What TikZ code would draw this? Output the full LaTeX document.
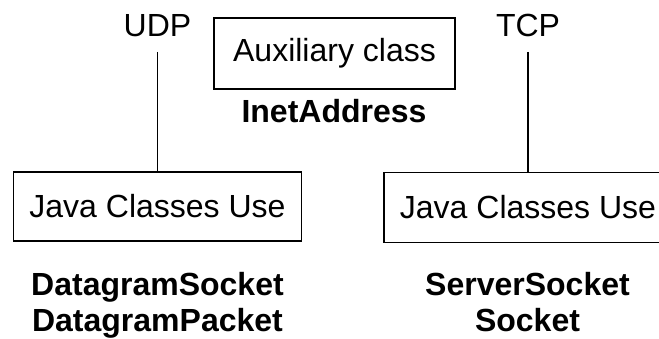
\documentclass[tikz,border=0pt]{standalone}
\usepackage{fontspec}
\setmainfont{Liberation Sans}
\begin{document}
\begin{tikzpicture}[x=1pt,y=-1pt,
  txt/.style={font=\fontsize{32}{38}\selectfont, inner sep=0pt, anchor=base},
  btxt/.style={txt, font=\fontsize{32}{38}\selectfont\bfseries},
  box/.style={draw, line width=1.2pt, inner sep=0pt, font=\fontsize{32}{38}\selectfont},
  conn/.style={line width=1.2pt}]
\useasboundingbox (0,0) rectangle (659,339);
\clip (0,0) rectangle (659,339);
% protocol labels
\node[txt] (udp) at (157.5,37) {UDP};
\node[txt] (tcp) at (528,37) {TCP};
% auxiliary class
\node[box, minimum width=241pt, minimum height=71pt] (aux) at (334.5,53.5) {Auxiliary class};
\node[btxt] (inet) at (334,123) {InetAddress};
% boxes
\node[box, minimum width=288pt, minimum height=69pt] (java1) at (157.5,206.5) {Java Classes Use};
\node[box, minimum width=288pt, minimum height=70pt] (java2) at (528,207.5) {Java Classes Use};
% connectors
\coordinate (udpend) at (157.5,52);
\coordinate (tcpend) at (528,52);
\draw[conn] (udpend) -- (java1.north);
\draw[conn] (tcpend) -- (java2.north);
% class lists
\node[btxt] (ds) at (157.5,295) {DatagramSocket};
\node[btxt] (dp) at (157.5,331) {DatagramPacket};
\node[btxt] (ss) at (527.5,295) {ServerSocket};
\node[btxt] (so) at (527.5,331) {Socket};
\end{tikzpicture}
\end{document}
